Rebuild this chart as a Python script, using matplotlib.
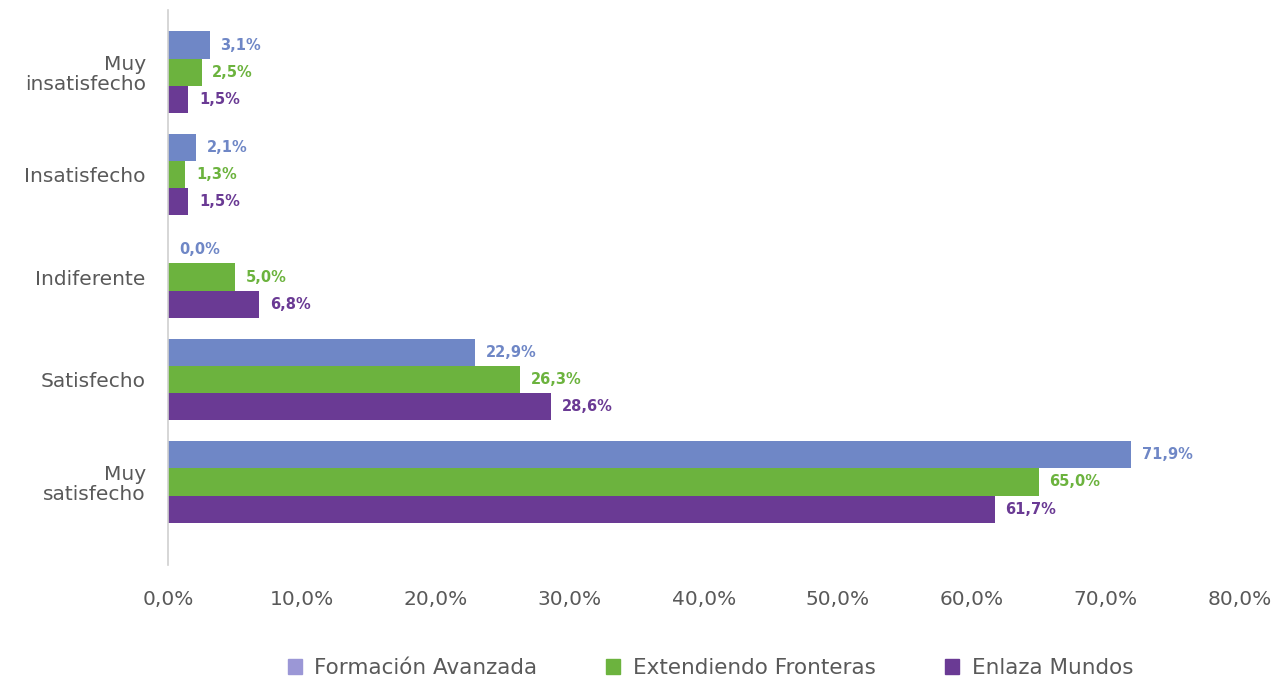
import matplotlib
matplotlib.use("Agg")
import matplotlib.pyplot as plt
import numpy as np
from matplotlib.ticker import FuncFormatter

categories = ["Muy\ninsatisfecho", "Insatisfecho", "Indiferente", "Satisfecho", "Muy\nsatisfecho"]
series_names = ["Formación Avanzada", "Extendiendo Fronteras", "Enlaza Mundos"]
formacion = [3.1, 2.1, 0.0, 22.9, 71.9]
extendiendo = [2.5, 1.3, 5.0, 26.3, 65.0]
enlaza = [1.5, 1.5, 6.8, 28.6, 61.7]
xticks = [0, 10, 20, 30, 40, 50, 60, 70, 80]

colors = ["#6f87c6", "#6cb33e", "#6a3a94"]
legend_colors = ["#9b97d6", "#6cb33e", "#6a3a94"]

plt.rcParams['font.family'] = ['DejaVu Sans']

fig = plt.figure(figsize=(12.78, 6.79), dpi=100)
ax = fig.add_axes([0.1315, 0.168, 0.8385, 0.817])

y = np.arange(len(categories))
h = 0.265
offsets = [-h, 0, h]
data = [formacion, extendiendo, enlaza]
for i, (vals, off) in enumerate(zip(data, offsets)):
    ax.barh(y + off, vals, height=h, color=colors[i], label=series_names[i])
    for yi, v in zip(y, vals):
        ax.text(v + 0.8, yi + off, f"{v:.1f}%".replace(".", ","), va="center", ha="left",
                color=colors[i], fontsize=10.5, fontweight="bold")

ax.set_ylim(4.81, -0.605)
ax.set_xlim(0, 80)
ax.set_yticks(y)
ax.set_yticklabels(categories, fontsize=14.5, color="#595959", linespacing=1.05)
ax.set_xticks(xticks)
ax.xaxis.set_major_formatter(FuncFormatter(lambda v, p: f"{v:.1f}%".replace(".", ",")))
ax.tick_params(axis="x", labelsize=14.5, labelcolor="#595959", length=0, pad=18)
ax.tick_params(axis="y", length=0, pad=16)
for s in ["top", "right", "bottom"]:
    ax.spines[s].set_visible(False)
ax.spines["left"].set_color("#d0d0d0")
ax.spines["left"].set_linewidth(1.2)

handles = [plt.Rectangle((0, 0), 1, 1, color=c) for c in legend_colors]
fig.legend(handles, series_names, loc="center", bbox_to_anchor=(0.556, 0.016),
           ncol=3, frameon=False, fontsize=15.5, labelcolor="#595959",
           handlelength=0.65, handleheight=0.65, columnspacing=3.2, handletextpad=0.6)

fig.savefig("out.png", dpi=100)
